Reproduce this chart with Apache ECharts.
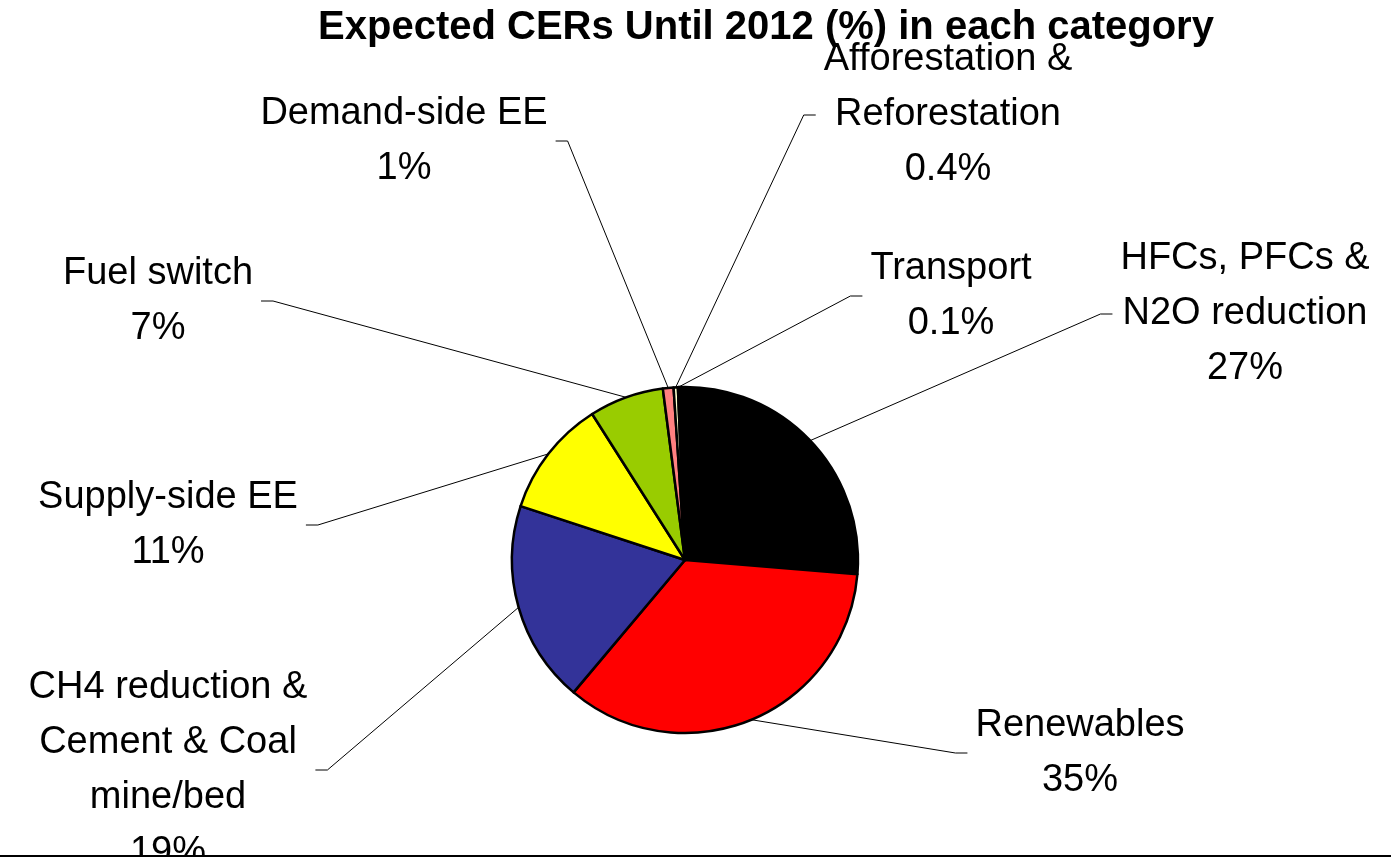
<!DOCTYPE html>
<html>
<head>
<meta charset="utf-8">
<title>Expected CERs</title>
<script src="https://cdn.jsdelivr.net/npm/echarts@6/dist/echarts.min.js"></script>
<style>
  html, body { margin: 0; padding: 0; background: #fff; }
  #main { width: 1391px; height: 855px; border-bottom: 2px solid #000; }
</style>
</head>
<body>
<div id="main"></div>
<script>
// categories, clockwise from the top of the pie
var categories = [
  "HFCs, PFCs &\nN2O reduction",
  "Renewables",
  "CH4 reduction &\nCement & Coal\nmine/bed",
  "Supply-side EE",
  "Fuel switch",
  "Demand-side EE",
  "Afforestation &\nReforestation",
  "Transport"
];
var shares = [27, 35, 19, 11, 7, 1, 0.4, 0.1];
var colors = ["#000000", "#FF0000", "#333399", "#FFFF00", "#99CC00", "#FF8080", "#FFFFCC", "#CCFFFF"];

// where each label sits (centre of the text block)
var labelPos = [
  [1245, 314],
  [1080, 753],
  [168, 770],
  [168, 525],
  [158, 301],
  [404, 141],
  [948, 115],
  [951, 296]
];

var myChart = echarts.init(document.getElementById("main"));

var option = {
  animation: false,
  backgroundColor: "#fff",
  title: {
    text: "Expected CERs Until 2012 (%) in each category",
    left: 761,
    top: 3,
    textAlign: "center",
    textStyle: {
      fontFamily: "Liberation Sans, Arial, sans-serif",
      fontWeight: "bold",
      fontSize: 40,
      color: "#000"
    }
  },
  series: [
    {
      type: "pie",
      center: [685, 560],
      radius: [0, 173],
      startAngle: 92,
      clockwise: true,
      emphasis: { disabled: true },
      itemStyle: {
        borderColor: "#000",
        borderWidth: 2.5
      },
      label: {
        show: true,
        position: "outside",
        fontFamily: "Liberation Sans, Arial, sans-serif",
        fontSize: 38,
        lineHeight: 55,
        color: "#000",
        align: "center",
        padding: [0, 8],
        formatter: function (p) {
          return p.name + "\n" + p.value + "%";
        }
      },
      labelLine: {
        show: true,
        length: 0,
        length2: 12,
        lineStyle: { color: "#000", width: 1 }
      },
      labelLayout: function (params) {
        var p = labelPos[params.dataIndex];
        return { x: p[0], y: p[1], align: "center", verticalAlign: "middle" };
      },
      data: categories.map(function (c, i) {
        return { name: c, value: shares[i], itemStyle: { color: colors[i] } };
      })
    }
  ]
};

myChart.setOption(option);
</script>
</body>
</html>
